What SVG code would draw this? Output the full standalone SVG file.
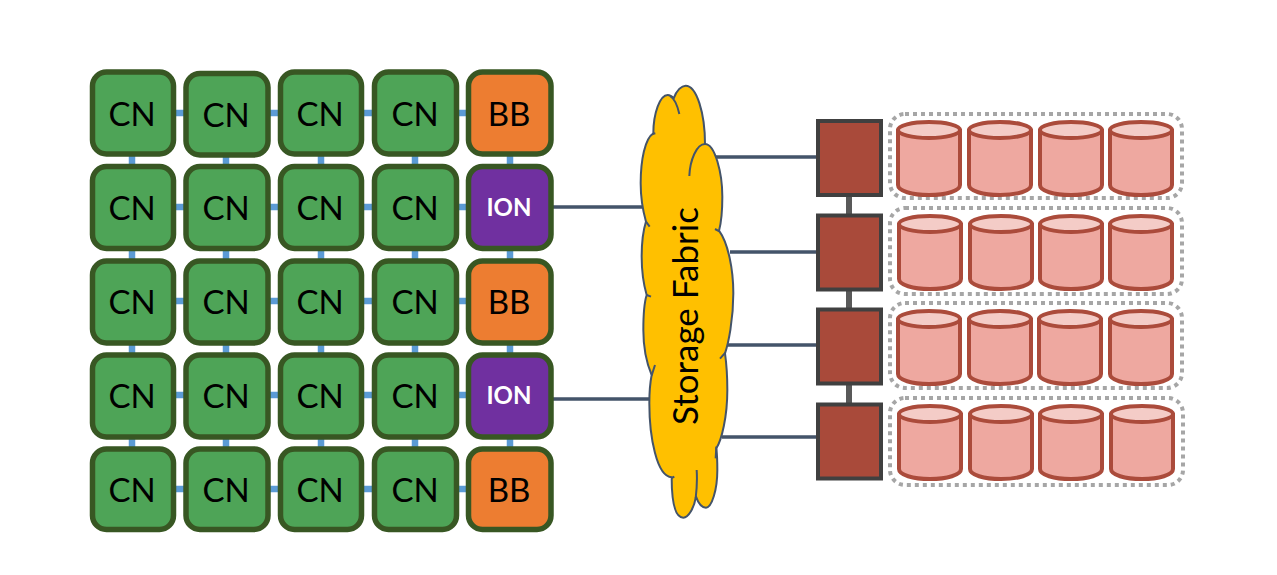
<svg xmlns="http://www.w3.org/2000/svg" width="1277" height="575" viewBox="0 0 1277 575">
<style>
.n{stroke:#385723;stroke-width:5.500}
.cn{fill:#4EA457}.bb{fill:#ED7D31}.ion{fill:#7030A0}
text{font-family:"Lato","Liberation Sans",sans-serif;text-anchor:middle}
.t{font-size:33px;fill:#000}
.w{font-size:24px;font-weight:700;fill:#fff}
.mesh{stroke:#5B9BD5;stroke-width:6.5;fill:none}
.link{stroke:#44546A;stroke-width:3.5;fill:none}
.rack{stroke:#595959;stroke-width:6;fill:none}
.sw{fill:#A94A3A;stroke:#404040;stroke-width:4}
.dot{fill:none;stroke:#A6A6A6;stroke-width:4;stroke-dasharray:4 4}
.cb{fill:#EEA8A0;stroke:#AB4B3B;stroke-width:4}
.ct{fill:#F4CCC7;stroke:#AB4B3B;stroke-width:4}
</style>
<defs>
<g id="cyl">
<path class="cb" d="M0 10V64C0 70 14 74 31 74S62 70 62 64V10Z"/>
<ellipse class="ct" cx="31" cy="9" rx="31" ry="8"/>
</g>
</defs>
<g id="connectors">
<path class="mesh" d="M174 113H186M268 113H281M362 113H375M456 113H469M174 207H186M268 207H281M362 207H375M456 207H469M174 301H186M268 301H281M362 301H375M456 301H469M174 395H186M268 395H281M362 395H375M456 395H469M174 489H186M268 489H281M362 489H375M456 489H469"/>
<path class="mesh" d="M132 154V167M226 154V167M321 154V167M415 154V167M510 154V167M132 249V261M226 249V261M321 249V261M415 249V261M510 249V261M132 343V355M226 343V355M321 343V355M415 343V355M510 343V355M132 437V449M226 437V449M321 437V449M415 437V449M510 437V449"/>
<path class="link" d="M553 207H645M553 399H652M715 157H818M730 252H818M725 345H818M722 437H818"/>
<path class="rack" d="M849 195V215M849 290V309M849 384V403"/>
</g>
<g id="compute">
<g id="n11"><rect class="n cn" x="92.500" y="72" width="81" height="82" rx="14"/><text class="t" x="132" y="126">CN</text></g>
<g id="n12"><rect class="n cn" x="186" y="73.500" width="82" height="81.500" rx="14"/><text class="t" x="226" y="127">CN</text></g>
<g id="n13"><rect class="n cn" x="280.500" y="72" width="81" height="82" rx="14"/><text class="t" x="320" y="126">CN</text></g>
<g id="n14"><rect class="n cn" x="374.500" y="72" width="82" height="82" rx="14"/><text class="t" x="415" y="126">CN</text></g>
<g id="n15"><rect class="n bb" x="468.500" y="72" width="82.500" height="82" rx="14"/><text class="t" x="509" y="126">BB</text></g>
<g id="n21"><rect class="n cn" x="92.500" y="166.500" width="81" height="82" rx="14"/><text class="t" x="132" y="220">CN</text></g>
<g id="n22"><rect class="n cn" x="186" y="166.500" width="82" height="82" rx="14"/><text class="t" x="226" y="220">CN</text></g>
<g id="n23"><rect class="n cn" x="280.500" y="166.500" width="81" height="82" rx="14"/><text class="t" x="320" y="220">CN</text></g>
<g id="n24"><rect class="n cn" x="374.500" y="166.500" width="82" height="82" rx="14"/><text class="t" x="415" y="220">CN</text></g>
<g id="n25"><rect class="n ion" x="468.500" y="166.500" width="82.500" height="82" rx="14"/><text class="w" x="509" y="216">ION</text></g>
<g id="n31"><rect class="n cn" x="92.500" y="261" width="81" height="82" rx="14"/><text class="t" x="132" y="314">CN</text></g>
<g id="n32"><rect class="n cn" x="186" y="261" width="82" height="82" rx="14"/><text class="t" x="226" y="314">CN</text></g>
<g id="n33"><rect class="n cn" x="280.500" y="261" width="81" height="82" rx="14"/><text class="t" x="320" y="314">CN</text></g>
<g id="n34"><rect class="n cn" x="374.500" y="261" width="82" height="82" rx="14"/><text class="t" x="415" y="314">CN</text></g>
<g id="n35"><rect class="n bb" x="468.500" y="261" width="82.500" height="82" rx="14"/><text class="t" x="509" y="314">BB</text></g>
<g id="n41"><rect class="n cn" x="92.500" y="355" width="81" height="82" rx="14"/><text class="t" x="132" y="408">CN</text></g>
<g id="n42"><rect class="n cn" x="186" y="355" width="82" height="82" rx="14"/><text class="t" x="226" y="408">CN</text></g>
<g id="n43"><rect class="n cn" x="280.500" y="355" width="81" height="82" rx="14"/><text class="t" x="320" y="408">CN</text></g>
<g id="n44"><rect class="n cn" x="374.500" y="355" width="82" height="82" rx="14"/><text class="t" x="415" y="408">CN</text></g>
<g id="n45"><rect class="n ion" x="468.500" y="355" width="82.500" height="82" rx="14"/><text class="w" x="509" y="404">ION</text></g>
<g id="n51"><rect class="n cn" x="92.500" y="449" width="81" height="80.500" rx="14"/><text class="t" x="132" y="502">CN</text></g>
<g id="n52"><rect class="n cn" x="186" y="449" width="82" height="80.500" rx="14"/><text class="t" x="226" y="502">CN</text></g>
<g id="n53"><rect class="n cn" x="280.500" y="449" width="81" height="80.500" rx="14"/><text class="t" x="320" y="502">CN</text></g>
<g id="n54"><rect class="n cn" x="374.500" y="449" width="82" height="80.500" rx="14"/><text class="t" x="415" y="502">CN</text></g>
<g id="n55"><rect class="n bb" x="468.500" y="449" width="82.500" height="80.500" rx="14"/><text class="t" x="509" y="502">BB</text></g>
</g>
<g id="cloud">
<g transform="translate(620 70) scale(.33333)">
<path fill="#FFC000" stroke="#44546A" stroke-width="6" stroke-linejoin="round" d="M100 190C100 130 120 75 143 75C150 75 156 79 161 85C170 60 185 47 197 47C230 47 255 130 255 222C285 222 307 310 307 380C307 420 303 460 297 482C325 520 340 600 340 670C340 750 325 820 315 850C322 900 322 930 322 960C322 1040 305 1110 289 1135C292 1160 292 1180 292 1200C292 1260 275 1313 258 1313C245 1313 235 1300 228 1280C222 1315 205 1343 190 1343C170 1343 155 1310 155 1222C110 1220 88 1100 88 1000C88 960 92 930 95 915C80 880 70 830 70 780C70 740 72 700 80 675C70 640 65 600 65 560C65 520 70 480 78 455C68 420 62 380 62 340C62 270 75 205 100 190Z"/>
<path fill="none" stroke="#44546A" stroke-width="6" d="M150 78C162 85 172 105 178 132M255 222C230 222 210 270 208 318M285 477L298 484M300 866L316 848M287 1165L289 1130M230 1200C232 1230 230 1260 227 1285M155 1224L163 1220M105 885L95 916M80 675L93 680M78 455L89 470M97 192L106 190"/>
</g>
<text transform="translate(698 316) rotate(-90)" fill="#000" style="font-size:35px">Storage Fabric</text>
</g>
<g id="sw1"><rect class="sw" x="818" y="121" width="63" height="74"/></g>
<g id="sw2"><rect class="sw" x="818" y="215.500" width="63" height="74"/></g>
<g id="sw3"><rect class="sw" x="818" y="309.500" width="63" height="74"/></g>
<g id="sw4"><rect class="sw" x="818" y="404.500" width="63" height="74"/></g>
<g id="disks1"><rect class="dot" x="890" y="114" width="292" height="84" rx="15"/>
<use href="#cyl" x="898" y="121"/><use href="#cyl" x="969" y="121"/><use href="#cyl" x="1040" y="121"/><use href="#cyl" x="1110" y="121"/></g>
<g id="disks2"><rect class="dot" x="890" y="208" width="292" height="86" rx="15"/>
<use href="#cyl" x="899" y="215"/><use href="#cyl" x="970" y="215"/><use href="#cyl" x="1040" y="215"/><use href="#cyl" x="1110" y="215"/></g>
<g id="disks3"><rect class="dot" x="890" y="303" width="292" height="85" rx="15"/>
<use href="#cyl" x="898" y="310"/><use href="#cyl" x="969" y="310"/><use href="#cyl" x="1039" y="310"/><use href="#cyl" x="1110" y="310"/></g>
<g id="disks4"><rect class="dot" x="890" y="398" width="293" height="87" rx="15"/>
<use href="#cyl" x="899" y="405"/><use href="#cyl" x="970" y="405"/><use href="#cyl" x="1040" y="405"/><use href="#cyl" x="1111" y="405"/></g>
</svg>
